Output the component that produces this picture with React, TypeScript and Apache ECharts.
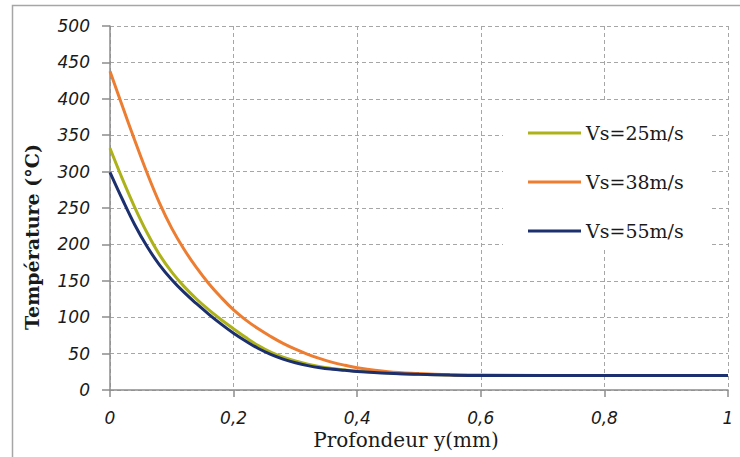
import React, { useEffect, useRef } from "react";
import * as echarts from "echarts";

const depth = [0, 0.02, 0.04, 0.06, 0.08, 0.1, 0.12, 0.14, 0.16, 0.18, 0.2, 0.22, 0.24, 0.26, 0.28, 0.3, 0.32, 0.34, 0.36, 0.38, 0.4, 0.45, 0.5, 0.55, 0.6, 0.7, 0.8, 0.9, 1.0];
const tempVs25 = [332, 290, 251, 216, 186, 162, 142, 125, 110, 96.5, 84, 72, 61, 52, 45, 40, 35.5, 32, 29.5, 27.5, 26, 23.5, 21.5, 20.5, 20, 20, 20, 20, 20];
const tempVs38 = [438, 390, 343, 298, 257, 222, 193, 168, 146, 127, 110, 96, 84, 73.5, 64, 56, 49, 43, 38, 34, 30.5, 25, 22.5, 21, 20.5, 20, 20, 20, 20];
const tempVs55 = [299, 262, 227, 197, 172, 151.5, 134, 118.5, 104, 90.5, 78, 67, 57, 49, 42.5, 37.5, 33.5, 30.5, 28.5, 27, 25.5, 23, 21.5, 20.5, 20, 20, 20, 20, 20];
const seriesNames = ["Vs=25m/s", "Vs=38m/s", "Vs=55m/s"];
const seriesColors = ["#adb21a", "#ed7d31", "#1c2f6e"];
const xTitle = "Profondeur y(mm)";
const yTitle = "Température (°C)";

export default function App() {
  const ref = useRef<HTMLDivElement>(null);
  useEffect(() => {
    if (!ref.current) return;
    const chart = echarts.init(ref.current, undefined, { renderer: "svg" });
    const all = [tempVs25, tempVs38, tempVs55];
    const labelStyle = {
      fontFamily: "DejaVu Sans",
      fontStyle: "italic" as const,
      fontSize: 17,
      color: "#1a1a1a",
    };
    chart.setOption({
      animation: false,
      backgroundColor: "#fff",
      grid: { left: 110, right: 12, top: 26, bottom: 67, containLabel: false },
      xAxis: {
        type: "value",
        min: 0,
        max: 1,
        interval: 0.2,
        axisLine: { show: true, lineStyle: { color: "#8c8c8c", width: 1.5 } },
        axisTick: { show: true, length: 7, lineStyle: { color: "#8c8c8c", width: 1.5 } },
        axisLabel: {
          ...labelStyle,
          margin: 19,
          formatter: (v: number) => String(Math.round(v * 10) / 10).replace(".", ","),
        },
        splitLine: { show: true, lineStyle: { color: "#a6a6a6", type: [4, 3], width: 1 } },
      },
      yAxis: {
        type: "value",
        min: 0,
        max: 500,
        interval: 50,
        axisLine: { show: true, lineStyle: { color: "#8c8c8c", width: 1.5 } },
        axisTick: { show: true, length: 8, lineStyle: { color: "#8c8c8c", width: 1.5 } },
        axisLabel: { ...labelStyle, margin: 20 },
        splitLine: { show: true, lineStyle: { color: "#a6a6a6", type: [4, 3], width: 1 } },
      },
      legend: {
        orient: "vertical",
        left: 503,
        top: 100,
        padding: [23, 28, 7, 25],
        backgroundColor: "#fff",
        icon: "rect",
        itemWidth: 53,
        itemHeight: 3,
        itemGap: 29,
        textStyle: { fontFamily: "DejaVu Serif", fontSize: 19, color: "#1a1a1a", lineHeight: 20 },
        data: seriesNames,
      },
      series: all.map((vals, i) => ({
        name: seriesNames[i],
        type: "line",
        symbol: "none",
        smooth: 0.4,
        color: seriesColors[i],
        lineStyle: { width: 3, color: seriesColors[i] },
        data: depth.map((d, j) => [d, vals[j]]),
        z: i === 2 ? 4 : 3,
      })),
      graphic: [
        {
          type: "rect",
          shape: { x: 12.5, y: 5.5, width: 800, height: 500 },
          style: { fill: "none", stroke: "#a6a6a6", lineWidth: 1.5 },
          silent: true,
        },
        {
          type: "text",
          x: 32,
          y: 237,
          rotation: Math.PI / 2,
          style: {
            text: yTitle,
            fontFamily: "DejaVu Serif",
            fontWeight: "bold",
            fontSize: 19,
            fill: "#1a1a1a",
            textAlign: "center",
            textVerticalAlign: "middle",
          },
        },
        {
          type: "text",
          x: 406,
          y: 440,
          style: {
            text: xTitle,
            fontFamily: "DejaVu Serif",
            fontSize: 20,
            fill: "#1a1a1a",
            textAlign: "center",
            textVerticalAlign: "middle",
          },
        },
      ],
    });
    return () => chart.dispose();
  }, []);
  return (
    <div
      ref={ref}
      style={{ position: "fixed", left: 0, top: 0, width: 740, height: 457 }}
    />
  );
}
